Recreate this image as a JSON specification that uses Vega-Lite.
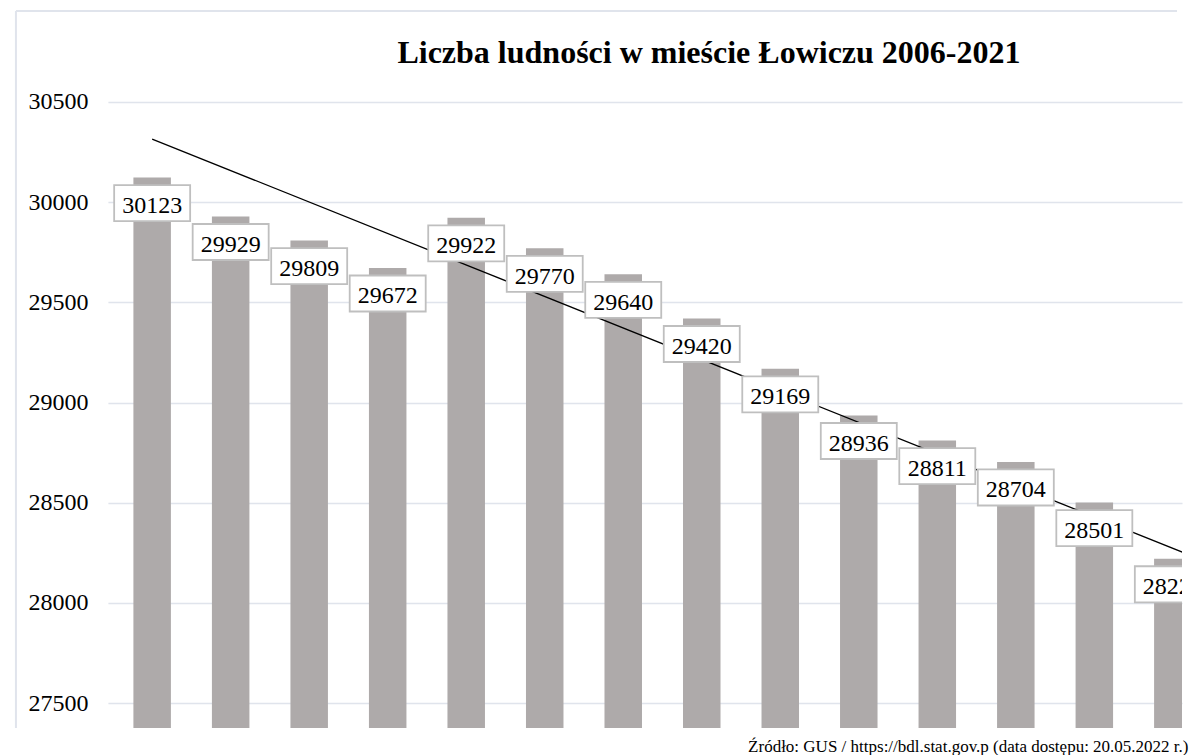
{
  "$schema": "https://vega.github.io/schema/vega-lite/v6.json",
  "autosize": "none",
  "width": 1074.1,
  "height": 717,
  "padding": {"left": 107.9, "top": 11, "right": 15, "bottom": 27},
  "background": "white",
  "config": {"view": {"stroke": null}, "font": "Liberation Serif, Times New Roman, serif"},
  "title": {
    "text": "Liczba ludności w mieście Łowiczu 2006-2021",
    "font": "Liberation Serif, Times New Roman, serif",
    "fontSize": 32,
    "fontWeight": "bold",
    "color": "#000000",
    "anchor": "middle",
    "orient": "top",
    "offset": -60,
    "dx": 64
  },
  "datasets": {
    "pop": [
      {"rok": 2006, "ludnosc": 30123},
      {"rok": 2007, "ludnosc": 29929},
      {"rok": 2008, "ludnosc": 29809},
      {"rok": 2009, "ludnosc": 29672},
      {"rok": 2010, "ludnosc": 29922},
      {"rok": 2011, "ludnosc": 29770},
      {"rok": 2012, "ludnosc": 29640},
      {"rok": 2013, "ludnosc": 29420},
      {"rok": 2014, "ludnosc": 29169},
      {"rok": 2015, "ludnosc": 28936},
      {"rok": 2016, "ludnosc": 28811},
      {"rok": 2017, "ludnosc": 28704},
      {"rok": 2018, "ludnosc": 28501},
      {"rok": 2019, "ludnosc": 28221}
    ],
    "trend": [
      {"rok": 2006, "ludnosc": 30315},
      {"rok": 2021, "ludnosc": 27958}
    ]
  },
  "layer": [
    {
      "data": {"name": "pop"},
      "mark": {"type": "bar", "width": 37.5, "color": "#aeaaaa", "clip": true},
      "encoding": {
        "x": {
          "field": "rok",
          "type": "quantitative",
          "scale": {"domain": [2005.5, 2019.053], "nice": false, "zero": false},
          "axis": {
            "labels": false,
            "ticks": false,
            "domain": false,
            "grid": false,
            "title": "Źródło: GUS / https://bdl.stat.gov.p (data dostępu: 20.05.2022 r.)",
            "titleFont": "Liberation Serif, Times New Roman, serif",
            "titleFontSize": 17,
            "titleFontWeight": "normal",
            "titleColor": "#000000",
            "titleAlign": "right",
            "titleAnchor": "end",
            "titleBaseline": "alphabetic",
            "titleX": 1080.1,
            "titleY": 23
          }
        },
        "y": {
          "field": "ludnosc",
          "type": "quantitative",
          "scale": {"domain": [27376, 30954], "nice": false, "zero": false},
          "axis": {
            "values": [27500, 28000, 28500, 29000, 29500, 30000, 30500],
            "title": null,
            "domain": false,
            "ticks": false,
            "labelFont": "Liberation Serif, Times New Roman, serif",
            "labelFontSize": 24,
            "labelColor": "#000000",
            "labelPadding": 19.9,
            "gridColor": "#e0e4ec",
            "gridWidth": 1.5,
            "format": "d"
          }
        }
      }
    },
    {
      "data": {"name": "trend"},
      "mark": {"type": "line", "color": "#000000", "strokeWidth": 1.3, "clip": true},
      "encoding": {
        "x": {"field": "rok", "type": "quantitative"},
        "y": {"field": "ludnosc", "type": "quantitative"}
      }
    },
    {
      "data": {"name": "pop"},
      "mark": {
        "type": "point",
        "shape": "M-1,-0.474L1,-0.474L1,0.474L-1,0.474Z",
        "size": 5776,
        "filled": true,
        "fill": "#ffffff",
        "fillOpacity": 1,
        "opacity": 1,
        "stroke": "#bfbfbf",
        "strokeWidth": 1.8,
        "yOffset": 25.6,
        "clip": true
      },
      "encoding": {
        "x": {"field": "rok", "type": "quantitative"},
        "y": {"field": "ludnosc", "type": "quantitative"}
      }
    },
    {
      "data": {"name": "pop"},
      "mark": {
        "type": "text",
        "font": "Liberation Serif, Times New Roman, serif",
        "fontSize": 24,
        "color": "#000000",
        "align": "center",
        "baseline": "alphabetic",
        "dy": 35.5,
        "clip": true
      },
      "encoding": {
        "x": {"field": "rok", "type": "quantitative"},
        "y": {"field": "ludnosc", "type": "quantitative"},
        "text": {"field": "ludnosc", "type": "quantitative", "format": "d"}
      }
    },
    {
      "data": {"values": [{}]},
      "mark": {"type": "rule", "color": "#e0e4ec", "strokeWidth": 2, "clip": false},
      "encoding": {
        "x": {"datum": 2004.265, "type": "quantitative"},
        "x2": {"datum": 2019.053},
        "y": {"datum": 30954, "type": "quantitative"}
      }
    },
    {
      "data": {"values": [{}]},
      "mark": {"type": "rule", "color": "#e0e4ec", "strokeWidth": 2, "clip": false},
      "encoding": {
        "x": {"datum": 2004.265, "type": "quantitative"},
        "y": {"datum": 30954, "type": "quantitative"},
        "y2": {"datum": 27376}
      }
    }
  ]
}
